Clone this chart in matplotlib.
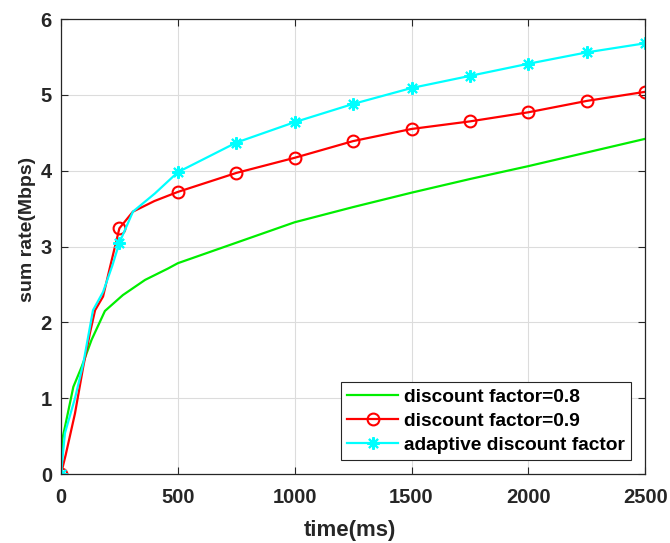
import numpy as np
import matplotlib.pyplot as plt
from matplotlib import rcParams

rcParams['font.family'] = ['Liberation Sans', 'DejaVu Sans']
rcParams['font.weight'] = 'bold'

# discount factor = 0.8 (no markers)
t_08 = [0, 5, 17, 53, 88, 131, 188, 265, 360, 458, 500, 750, 1000, 1250, 1500, 1750, 2000, 2250, 2500]
r_08 = [0.0, 0.45, 0.62, 1.15, 1.41, 1.77, 2.15, 2.36, 2.56, 2.71, 2.78, 3.05, 3.32, 3.52, 3.71, 3.89, 4.06, 4.24, 4.42]

# discount factor = 0.9 (circle markers every 250 ms)
t_09 = [0, 20, 60, 95, 124, 146, 180, 210, 250, 308, 400, 500, 750, 1000, 1250, 1500, 1750, 2000, 2250, 2500]
r_09 = [0.0, 0.25, 0.8, 1.41, 1.86, 2.16, 2.34, 2.73, 3.24, 3.46, 3.6, 3.72, 3.97, 4.17, 4.39, 4.55, 4.65, 4.77, 4.92, 5.04]

# adaptive discount factor (asterisk markers every 250 ms)
t_ad = [0, 17, 60, 95, 137, 180, 220, 250, 308, 402, 500, 750, 1000, 1250, 1500, 1750, 2000, 2250, 2500]
r_ad = [0.0, 0.54, 1.0, 1.45, 2.16, 2.4, 2.75, 3.05, 3.46, 3.70, 3.98, 4.37, 4.64, 4.88, 5.09, 5.25, 5.41, 5.56, 5.68]

labels = ['discount factor=0.8', 'discount factor=0.9', 'adaptive discount factor']

axis_col = '#262626'


def marks(t):
    return [i for i, v in enumerate(t) if v % 250 == 0]


fig, ax = plt.subplots(figsize=(6.7, 5.43), dpi=100)
fig.subplots_adjust(left=0.091, right=0.963, top=0.965, bottom=0.127)

ax.plot(t_08, r_08, color='#00ee00', lw=1.6, label=labels[0])
ax.plot(t_09, r_09, color='red', lw=1.6, marker='o', ms=8.5, mfc='none', mew=1.5,
        markevery=marks(t_09), label=labels[1])
ax.plot(t_ad, r_ad, color='cyan', lw=1.6, marker=(8, 2, 0), ms=9, mew=1.5,
        markevery=marks(t_ad), label=labels[2])

ax.set_xlim(0, 2500)
ax.set_ylim(0, 6)
ax.set_xticks(np.arange(0, 2501, 500))
ax.set_yticks(np.arange(0, 7, 1))
ax.tick_params(direction='in', top=True, right=True, labelsize=14.5, length=5,
               width=0.8, colors=axis_col)
ax.tick_params(axis='x', pad=10)
ax.tick_params(axis='y', pad=6.5)
for lab in ax.get_xticklabels() + ax.get_yticklabels():
    lab.set_fontweight('bold')
ax.grid(True, color='#dcdcdc', lw=0.8)
for s in ax.spines.values():
    s.set_color(axis_col)
    s.set_linewidth(0.9)

ax.set_xlabel('time(ms)', fontsize=16, fontweight='bold', color=axis_col)
ax.set_ylabel('sum rate(Mbps)', fontsize=14, fontweight='bold', color=axis_col)
ax.xaxis.set_label_coords(0.495, -0.1)
ax.yaxis.set_label_coords(-0.058, 0.538)
ax.yaxis.label.set_va('center')

leg = ax.legend(loc='lower right', fontsize=13.8, frameon=True, fancybox=False,
                edgecolor=axis_col, framealpha=1, borderaxespad=0.75,
                handlelength=2.7, handletextpad=0.3, labelspacing=0.35, borderpad=0.3)
leg.get_frame().set_linewidth(0.8)
for txt in leg.get_texts():
    txt.set_fontweight('bold')

plt.savefig('out.png', dpi=100)
plt.close()
